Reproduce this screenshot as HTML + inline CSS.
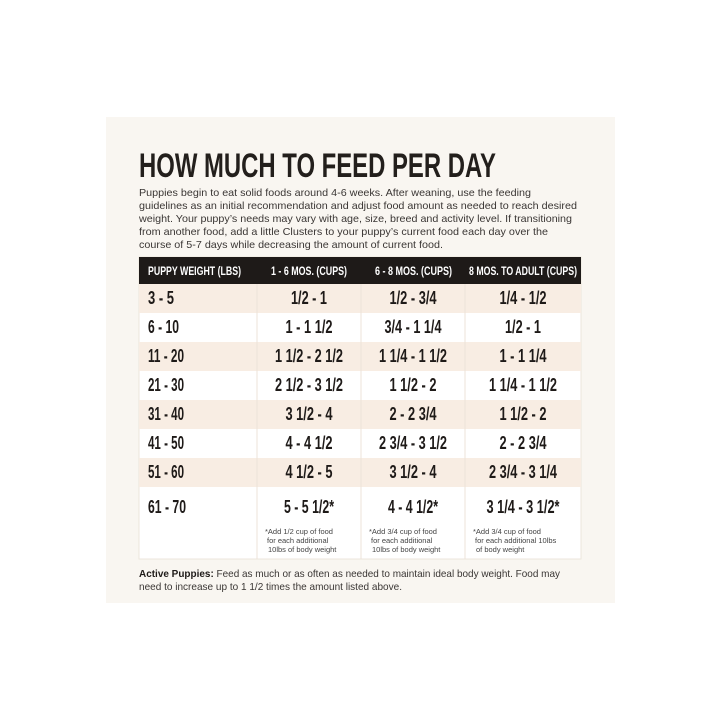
<!DOCTYPE html>
<html><head><style>body{margin:0;background:#fff}svg{display:block}</style></head><body>
<svg width="720" height="720" xmlns="http://www.w3.org/2000/svg" font-family="Liberation Sans, sans-serif">
<rect width="720" height="720" fill="#fff"/>
<rect x="106" y="117" width="509" height="486" fill="#f9f6f1"/>
<text x="139" y="177" font-size="34" font-weight="bold" fill="#231f1c" textLength="357" lengthAdjust="spacingAndGlyphs">HOW MUCH TO FEED PER DAY</text>
<g font-size="10.5" fill="#3a3634">
<text x="139" y="196" textLength="392" lengthAdjust="spacingAndGlyphs">Puppies begin to eat solid foods around 4-6 weeks. After weaning, use the feeding</text>
<text x="139" y="209" textLength="438" lengthAdjust="spacingAndGlyphs">guidelines as an initial recommendation and adjust food amount as needed to reach desired</text>
<text x="139" y="222" textLength="433" lengthAdjust="spacingAndGlyphs">weight. Your puppy’s needs may vary with age, size, breed and activity level. If transitioning</text>
<text x="139" y="235" textLength="409" lengthAdjust="spacingAndGlyphs">from another food, add a little Clusters to your puppy’s current food each day over the</text>
<text x="139" y="248" textLength="304" lengthAdjust="spacingAndGlyphs">course of 5-7 days while decreasing the amount of current food.</text>
</g>
<rect x="139" y="257" width="442" height="302" fill="#fff" stroke="#ece5dc"/>
<g fill="#f8ede3">
<rect x="139" y="284" width="442" height="29"/><rect x="139" y="342" width="442" height="29"/>
<rect x="139" y="400" width="442" height="29"/><rect x="139" y="458" width="442" height="29"/>
</g>
<g stroke="#ece3d9" stroke-width="1">
<line x1="257" y1="257" x2="257" y2="559"/><line x1="361" y1="257" x2="361" y2="559"/><line x1="465" y1="257" x2="465" y2="559"/>
</g>
<rect x="139" y="257" width="442" height="27" fill="#1e1a18"/>
<g font-size="12" font-weight="bold" fill="#fff">
<text x="148" y="275" textLength="93" lengthAdjust="spacingAndGlyphs">PUPPY WEIGHT (LBS)</text>
<text x="271" y="275" textLength="76" lengthAdjust="spacingAndGlyphs">1 - 6 MOS. (CUPS)</text>
<text x="375" y="275" textLength="77" lengthAdjust="spacingAndGlyphs">6 - 8 MOS. (CUPS)</text>
<text x="469" y="275" textLength="108" lengthAdjust="spacingAndGlyphs">8 MOS. TO ADULT (CUPS)</text>
</g>
<g font-size="18" font-weight="bold" fill="#1e1a18">
<text x="148" y="304" textLength="26" lengthAdjust="spacingAndGlyphs">3 - 5</text>
<text x="148" y="333" textLength="31" lengthAdjust="spacingAndGlyphs">6 - 10</text>
<text x="148" y="362" textLength="36" lengthAdjust="spacingAndGlyphs">11 - 20</text>
<text x="148" y="391" textLength="36" lengthAdjust="spacingAndGlyphs">21 - 30</text>
<text x="148" y="420" textLength="36" lengthAdjust="spacingAndGlyphs">31 - 40</text>
<text x="148" y="449" textLength="36" lengthAdjust="spacingAndGlyphs">41 - 50</text>
<text x="148" y="478" textLength="36" lengthAdjust="spacingAndGlyphs">51 - 60</text>
<text x="148" y="513" textLength="38" lengthAdjust="spacingAndGlyphs">61 - 70</text>
</g>
<g font-size="18" font-weight="bold" fill="#1e1a18" text-anchor="middle" lengthAdjust="spacingAndGlyphs">
<text x="309" y="304" textLength="36" lengthAdjust="spacingAndGlyphs">1/2 - 1</text><text x="413" y="304" textLength="47" lengthAdjust="spacingAndGlyphs">1/2 - 3/4</text><text x="523" y="304" textLength="47" lengthAdjust="spacingAndGlyphs">1/4 - 1/2</text>
<text x="309" y="333" textLength="47" lengthAdjust="spacingAndGlyphs">1 - 1 1/2</text><text x="413" y="333" textLength="57" lengthAdjust="spacingAndGlyphs">3/4 - 1 1/4</text><text x="523" y="333" textLength="36" lengthAdjust="spacingAndGlyphs">1/2 - 1</text>
<text x="309" y="362" textLength="68" lengthAdjust="spacingAndGlyphs">1 1/2 - 2 1/2</text><text x="413" y="362" textLength="68" lengthAdjust="spacingAndGlyphs">1 1/4 - 1 1/2</text><text x="523" y="362" textLength="47" lengthAdjust="spacingAndGlyphs">1 - 1 1/4</text>
<text x="309" y="391" textLength="68" lengthAdjust="spacingAndGlyphs">2 1/2 - 3 1/2</text><text x="413" y="391" textLength="47" lengthAdjust="spacingAndGlyphs">1 1/2 - 2</text><text x="523" y="391" textLength="68" lengthAdjust="spacingAndGlyphs">1 1/4 - 1 1/2</text>
<text x="309" y="420" textLength="47" lengthAdjust="spacingAndGlyphs">3 1/2 - 4</text><text x="413" y="420" textLength="47" lengthAdjust="spacingAndGlyphs">2 - 2 3/4</text><text x="523" y="420" textLength="47" lengthAdjust="spacingAndGlyphs">1 1/2 - 2</text>
<text x="309" y="449" textLength="47" lengthAdjust="spacingAndGlyphs">4 - 4 1/2</text><text x="413" y="449" textLength="68" lengthAdjust="spacingAndGlyphs">2 3/4 - 3 1/2</text><text x="523" y="449" textLength="47" lengthAdjust="spacingAndGlyphs">2 - 2 3/4</text>
<text x="309" y="478" textLength="47" lengthAdjust="spacingAndGlyphs">4 1/2 - 5</text><text x="413" y="478" textLength="47" lengthAdjust="spacingAndGlyphs">3 1/2 - 4</text><text x="523" y="478" textLength="68" lengthAdjust="spacingAndGlyphs">2 3/4 - 3 1/4</text>
<text x="309" y="513" textLength="50" lengthAdjust="spacingAndGlyphs">5 - 5 1/2*</text><text x="413" y="513" textLength="50" lengthAdjust="spacingAndGlyphs">4 - 4 1/2*</text><text x="523" y="513" textLength="73" lengthAdjust="spacingAndGlyphs">3 1/4 - 3 1/2*</text>
</g>
<g font-size="7.5" fill="#444">
<text x="265" y="534">*Add 1/2 cup of food</text><text x="267" y="543">for each additional</text><text x="268" y="552">10lbs of body weight</text>
<text x="369" y="534">*Add 3/4 cup of food</text><text x="371" y="543">for each additional</text><text x="372" y="552">10lbs of body weight</text>
<text x="473" y="534">*Add 3/4 cup of food</text><text x="475" y="543">for each additional 10lbs</text><text x="476" y="552">of body weight</text>
</g>
<g font-size="10.5" fill="#3a3634">
<text x="139" y="577" textLength="421" lengthAdjust="spacingAndGlyphs"><tspan font-weight="bold" fill="#1e1a18">Active Puppies:</tspan> Feed as much or as often as needed to maintain ideal body weight. Food may</text>
<text x="139" y="590" textLength="263" lengthAdjust="spacingAndGlyphs">need to increase up to 1 1/2 times the amount listed above.</text>
</g>
</svg>
</body></html>
